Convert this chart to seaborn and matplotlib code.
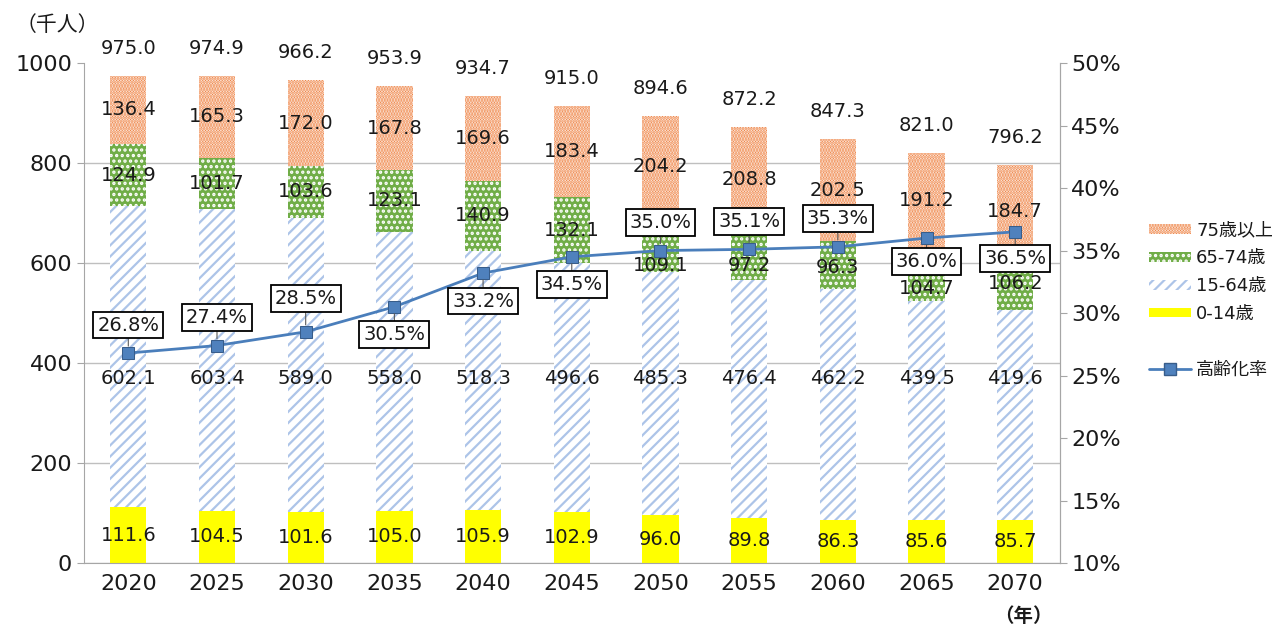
import numpy as np
import pandas as pd
import matplotlib
matplotlib.use('Agg')
import matplotlib.pyplot as plt
import seaborn as sns
from matplotlib.patches import Patch
from matplotlib.lines import Line2D
from matplotlib.ticker import FixedLocator

# Dados
anos = ['2020', '2025', '2030', '2035', '2040', '2045', '2050', '2055', '2060', '2065', '2070']
faixa_0_14 = [111.6, 104.5, 101.6, 105.0, 105.9, 102.9, 96.0, 89.8, 86.3, 85.6, 85.7]
faixa_15_64 = [602.1, 603.4, 589.0, 558.0, 518.3, 496.6, 485.3, 476.4, 462.2, 439.5, 419.6]
faixa_65_74 = [124.9, 101.7, 103.6, 123.1, 140.9, 132.1, 109.1, 97.2, 96.3, 104.7, 106.2]
faixa_75 = [136.4, 165.3, 172.0, 167.8, 169.6, 183.4, 204.2, 208.8, 202.5, 191.2, 184.7]
totais = [975.0, 974.9, 966.2, 953.9, 934.7, 915.0, 894.6, 872.2, 847.3, 821.0, 796.2]
taxa_envelhecimento = [26.8, 27.4, 28.5, 30.5, 33.2, 34.5, 35.0, 35.1, 35.3, 36.0, 36.5]

# Ajustes dos rótulos (para não ficarem embaixo das caixas da taxa)
lado_rotulo = [1, 1, 1.2, -1, -1, -1, 1, 1, 1, -0.85, -0.95]
ajuste_65_74 = [0, 0, 0, 0, 0, 0, -40, -19, -5, -29, 0]

sns.set_style('white')
plt.rcParams['font.family'] = ['DejaVu Sans', 'Noto Sans CJK JP']
plt.rcParams['hatch.linewidth'] = 1.6

df = pd.DataFrame({
    'ano': anos,
    'a': faixa_0_14,
    'b': faixa_15_64,
    'c': faixa_65_74,
    'd': faixa_75,
})
df['cum_a'] = df['a']
df['cum_b'] = df['cum_a'] + df['b']
df['cum_c'] = df['cum_b'] + df['c']
df['cum_d'] = df['cum_c'] + df['d']

cor_amarelo = '#FFFF00'
cor_azul = '#ADC4E8'
cor_verde = '#70AD47'
cor_laranja = '#EE8040'
cor_linha = '#4A7EBB'
cor_eixo = '#A6A6A6'
cor_texto = '#1A1A1A'

fig = plt.figure(figsize=(12.72, 6.28), dpi=100)
ax = fig.add_axes([0.066, 0.1035, 0.767, 0.796])

largura = 0.41
# Barras empilhadas (da maior para a menor, cada uma cobre a anterior)
sns.barplot(data=df, x='ano', y='cum_d', color='white', edgecolor=cor_laranja, hatch='......',
            linewidth=0, width=largura, saturation=1, errorbar=None, ax=ax)
sns.barplot(data=df, x='ano', y='cum_c', color=cor_verde, edgecolor='white', hatch='...',
            linewidth=0, width=largura, saturation=1, errorbar=None, ax=ax)
sns.barplot(data=df, x='ano', y='cum_b', color='white', edgecolor=cor_azul, hatch='///',
            linewidth=0, width=largura, saturation=1, errorbar=None, ax=ax)
sns.barplot(data=df, x='ano', y='cum_a', color=cor_amarelo, linewidth=0, width=largura,
            saturation=1, errorbar=None, ax=ax)

# Rótulos dos valores
fs_val = 14
for i in range(len(anos)):
    ax.text(i, df['cum_a'][i] / 2, f'{faixa_0_14[i]:.1f}', ha='center', va='center',
            fontsize=fs_val, color=cor_texto)
    ax.text(i, 370, f'{faixa_15_64[i]:.1f}', ha='center', va='center', fontsize=fs_val, color=cor_texto)
    ax.text(i, (df['cum_b'][i] + df['cum_c'][i]) / 2 + ajuste_65_74[i], f'{faixa_65_74[i]:.1f}',
            ha='center', va='center', fontsize=fs_val, color=cor_texto)
    ax.text(i, (df['cum_c'][i] + df['cum_d'][i]) / 2, f'{faixa_75[i]:.1f}',
            ha='center', va='center', fontsize=fs_val, color=cor_texto)
    ax.text(i, totais[i] + 55, f'{totais[i]:.1f}', ha='center', va='center', fontsize=fs_val,
            color=cor_texto)

ax.set_ylim(0, 1000)
ax.set_xlim(-0.5, len(anos) - 0.5)
ax.set_yticks(range(0, 1001, 200))
ax.set_xlabel('')
ax.set_ylabel('')
ax.set_axisbelow(True)
ax.yaxis.grid(True, color='#BFBFBF', linewidth=1)
ax.get_ygridlines()[-1].set_visible(False)
ax.xaxis.set_minor_locator(FixedLocator(np.arange(-0.5, len(anos), 1.0)))
ax.tick_params(axis='x', which='major', length=0, labelsize=16, pad=8, labelcolor=cor_texto)
ax.tick_params(axis='x', which='minor', length=6, color=cor_eixo, direction='out')
ax.tick_params(axis='y', length=5, color=cor_eixo, direction='out', labelsize=16, labelcolor=cor_texto)
ax.spines['top'].set_visible(False)
for s in ['left', 'bottom', 'right']:
    ax.spines[s].set_color(cor_eixo)

# Linha da taxa de envelhecimento no eixo secundário
ax2 = ax.twinx()
sns.lineplot(x=np.arange(len(anos)), y=taxa_envelhecimento, ax=ax2, color=cor_linha, linewidth=2,
             marker='s', markersize=8, markerfacecolor='#4F81BD', markeredgecolor='#385D8A')
for i, t in enumerate(taxa_envelhecimento):
    ax2.annotate(f'{t:.1f}%', xy=(i, t), xytext=(0, 28 * lado_rotulo[i]), textcoords='offset pixels',
                 ha='center', va='center', fontsize=14, color=cor_texto,
                 bbox=dict(boxstyle='square,pad=0.2', fc='white', ec='black', lw=1.3),
                 arrowprops=dict(arrowstyle='-', color='#595959', lw=0.8, shrinkA=0, shrinkB=5))
ax2.set_ylim(10, 50)
ax2.set_yticks(range(10, 51, 5))
ax2.set_yticklabels([f'{v}%' for v in range(10, 51, 5)])
ax2.set_ylabel('')
ax2.tick_params(axis='y', length=5, color=cor_eixo, direction='out', labelsize=16, labelcolor=cor_texto)
for s in ['top', 'left', 'bottom']:
    ax2.spines[s].set_visible(False)
ax2.spines['right'].set_color(cor_eixo)

# Textos das unidades
fig.text(57 / 1272, 1 - 25 / 628, '（千人）', ha='center', va='center', fontsize=15,
         family=['Noto Sans CJK JP'], color=cor_texto)
fig.text(1023 / 1272, 1 - 617 / 628, '（年）', ha='center', va='center', fontsize=14,
         fontweight='bold', family=['Noto Sans CJK JP'], color=cor_texto)

# Legenda
handles = [
    Patch(facecolor='white', edgecolor=cor_laranja, hatch='......', linewidth=0),
    Patch(facecolor=cor_verde, edgecolor='white', hatch='...', linewidth=0),
    Patch(facecolor='white', edgecolor=cor_azul, hatch='///', linewidth=0),
    Patch(facecolor=cor_amarelo, linewidth=0),
    Patch(facecolor='none', edgecolor='none'),
    Line2D([], [], color=cor_linha, linewidth=2, marker='s', markersize=8,
           markerfacecolor='#4F81BD', markeredgecolor='#385D8A'),
]
rotulos = ['75歳以上', '65-74歳', '15-64歳', '0-14歳', ' ', '高齢化率']
fig.legend(handles, rotulos, loc='upper left', bbox_to_anchor=(1142 / 1272, 1 - 214 / 628),
           frameon=False, fontsize=13, handlelength=2.3, handleheight=0.45, handletextpad=0.3,
           labelspacing=0.55, borderaxespad=0, labelcolor=cor_texto)

fig.savefig('out.png', dpi=100)
